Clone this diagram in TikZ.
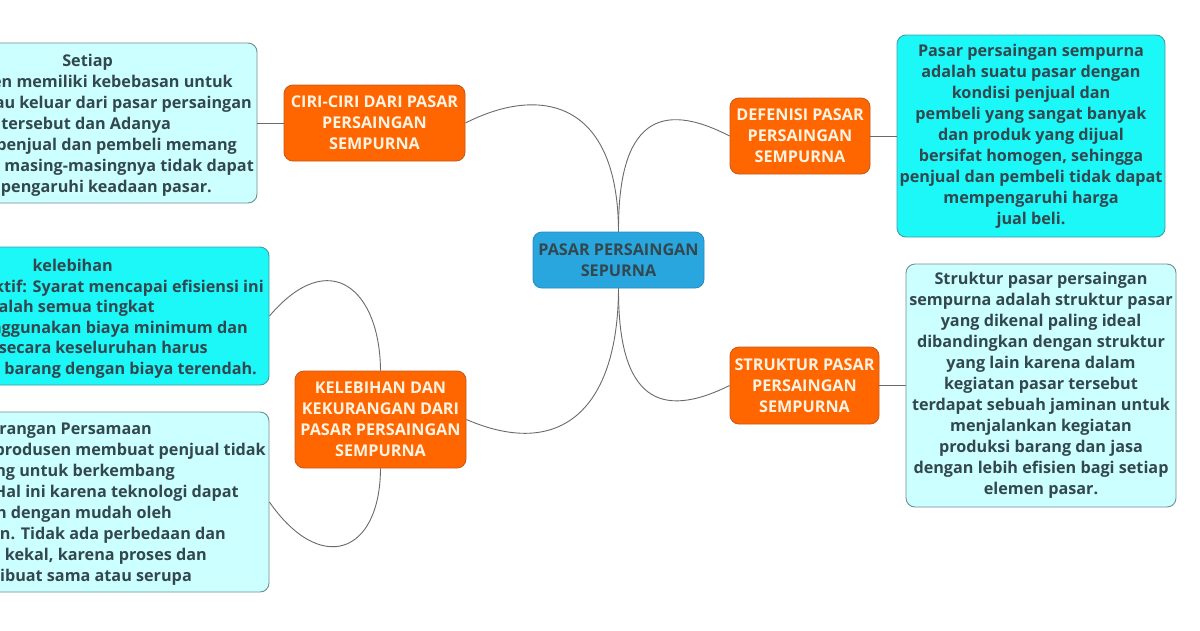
\documentclass[tikz,border=0pt]{standalone}
\usepackage{fontspec}
\setmainfont{Open Sans}
\usetikzlibrary{positioning}
\definecolor{hubblue}{HTML}{29A6DE}
\definecolor{hubedge}{HTML}{2A8CC0}
\definecolor{topicorange}{HTML}{FF6600}
\definecolor{topicedge}{HTML}{C85A1A}
\definecolor{topictext}{HTML}{FFF3E3}
\definecolor{notecyan}{HTML}{1CF7F7}
\definecolor{noteedge}{HTML}{3F9FA5}
\definecolor{palecyan}{HTML}{CCFFFF}
\definecolor{paleedge}{HTML}{6F8F94}
\definecolor{inkdark}{HTML}{33474F}
\definecolor{linkgray}{HTML}{6A6A6A}

\begin{document}
\begin{tikzpicture}[x=1pt, y=-1pt,
      font=\fontsize{16.2}{21}\selectfont\bfseries,
      box/.style={draw, rounded corners=9pt, align=center, inner sep=0pt,
        line width=0.9pt},
      hub/.style={box, fill=hubblue, draw=hubedge, text=inkdark},
      topic/.style={box, fill=topicorange, draw=topicedge, text=topictext},
      note/.style={box, fill=notecyan, draw=noteedge, text=inkdark},
      pale/.style={box, fill=palecyan, draw=paleedge, text=inkdark},
      cut/.style={anchor=base east, text=inkdark, inner sep=0pt},
      link/.style={draw=linkgray, line width=0.9pt}
    ]
    \useasboundingbox[fill=white] (0,0) rectangle (1200,630);

    \node[hub, minimum width=171pt, minimum height=56pt] (cen) at (618.5,260)
      {PASAR PERSAINGAN\\SEPURNA};

    \node[topic, minimum width=181pt, minimum height=76pt] (ciri) at (374.5,123)
      {CIRI-CIRI DARI PASAR\\PERSAINGAN\\SEMPURNA};
    \node[topic, minimum width=171pt, minimum height=97pt] (kel) at (380.5,419.5)
      {KELEBIHAN DAN\\KEKURANGAN DARI\\PASAR PERSAINGAN\\SEMPURNA};
    \node[topic, minimum width=140pt, minimum height=76pt] (def) at (800,136)
      {DEFENISI PASAR\\PERSAINGAN\\SEMPURNA};
    \node[topic, minimum width=149pt, minimum height=77pt] (str) at (804.5,385.5)
      {STRUKTUR PASAR\\PERSAINGAN\\SEMPURNA};

    \node[note, minimum width=268pt, minimum height=202pt] (nt) at (1031,136)
      {Pasar persaingan sempurna\\adalah suatu pasar dengan\\kondisi penjual dan\\
       pembeli yang sangat banyak\\dan produk yang dijual\\bersifat homogen, sehingga\\
       penjual dan pembeli tidak dapat\\mempengaruhi harga\\jual beli.};
    \node[pale, minimum width=270pt, minimum height=243pt] (nb) at (1041,385.5)
      {Struktur pasar persaingan\\sempurna adalah struktur pasar\\yang dikenal paling ideal\\
       dibandingkan dengan struktur\\yang lain karena dalam\\kegiatan pasar tersebut\\
       terdapat sebuah jaminan untuk\\menjalankan kegiatan\\produksi barang dan jasa\\
       dengan lebih efisien bagi setiap\\elemen pasar.};

    \node[pale, minimum width=340pt, minimum height=160pt] (lt) at (87,123) {};
    \node[cut] (lt1) at (113,66) {Setiap};
    \node[cut] (lt2) at (233,87) {en memiliki kebebasan untuk};
    \node[cut] (lt3) at (252,108) {au keluar dari pasar persaingan};
    \node[cut] (lt4) at (171,129) {tersebut dan Adanya};
    \node[cut] (lt5) at (237,150) {penjual dan pembeli memang};
    \node[cut] (lt6) at (254,171) {masing-masingnya tidak dapat};
    \node[cut] (lt7) at (212,192) {mpengaruhi keadaan pasar.};

    \node[note, minimum width=360pt, minimum height=138pt] (lm) at (89,316) {};
    \node[cut] (lm1) at (113,271) {kelebihan};
    \node[cut] (lm2) at (264,292) {ktif: Syarat mencapai efisiensi ini};
    \node[cut] (lm3) at (155,312) {alah semua tingkat};
    \node[cut] (lm4) at (248,333) {nggunakan biaya minimum dan};
    \node[cut] (lm5) at (208,353) {secara keseluruhan harus};
    \node[cut] (lm6) at (257,374) {i barang dengan biaya terendah.};

    \node[pale, minimum width=360pt, minimum height=180pt] (lb) at (89,502) {};
    \node[cut] (lb1) at (152,434) {urangan Persamaan};
    \node[cut] (lb2) at (266,455) {produsen membuat penjual tidak};
    \node[cut] (lb3) at (175,476) {ng untuk berkembang};
    \node[cut] (lb4) at (239,497) {Hal ini karena teknologi dapat};
    \node[cut] (lb5) at (172,518) {oh dengan mudah oleh};
    \node[cut] (lb6) at (226,539) {in. Tidak ada perbedaan dan};
    \node[cut] (lb7) at (207,560) {n kekal, karena proses dan};
    \node[cut] (lb8) at (192,581) {dibuat sama atau serupa};

    \draw[link] (cen.north) .. controls (618,100) and (540,85) .. (ciri.east);
    \draw[link] (cen.north) .. controls (618,120) and (660,100) .. (def.west);
    \draw[link] (cen.south) .. controls (618,410) and (560,460) .. (kel.east);
    \draw[link] (cen.south) .. controls (618,400) and (660,420) .. (str.west);
    \draw[link] (kel.north) .. controls (380,290) and (330,245) .. (lm.east);
    \draw[link] (kel.south) .. controls (380,555) and (320,575) .. (lb.east);
    \draw[link] (ciri.west) -- (lt.east);
    \draw[link] (def.east) -- (nt.west);
    \draw[link] (str.east) -- (nb.west);
  \end{tikzpicture}
\end{document}
